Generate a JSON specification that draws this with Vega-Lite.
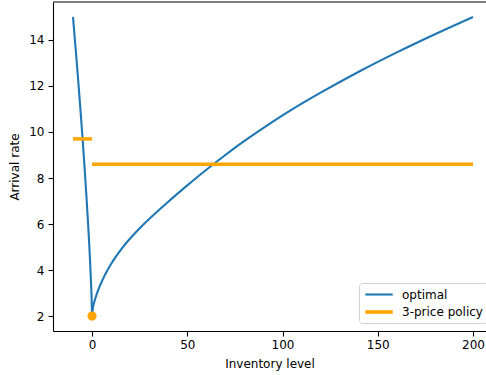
{
  "$schema": "https://vega.github.io/schema/vega-lite/v6.json",
  "width": 433,
  "height": 329,
  "autosize": {"type": "none"},
  "padding": {"left": 53, "top": 2, "right": 0, "bottom": 44},
  "datasets": {
    "curves": [
      {"x": -10, "y": 15, "series": "optimal", "seg": "L"},
      {"x": -9, "y": 14.0, "series": "optimal", "seg": "L"},
      {"x": -8, "y": 13.0, "series": "optimal", "seg": "L"},
      {"x": -7, "y": 11.95, "series": "optimal", "seg": "L"},
      {"x": -6, "y": 10.87, "series": "optimal", "seg": "L"},
      {"x": -5, "y": 9.75, "series": "optimal", "seg": "L"},
      {"x": -4, "y": 8.55, "series": "optimal", "seg": "L"},
      {"x": -3, "y": 7.27, "series": "optimal", "seg": "L"},
      {"x": -2, "y": 5.9, "series": "optimal", "seg": "L"},
      {"x": -1.5, "y": 5.15, "series": "optimal", "seg": "L"},
      {"x": -1, "y": 4.3, "series": "optimal", "seg": "L"},
      {"x": -0.5, "y": 3.38, "series": "optimal", "seg": "L"},
      {"x": -0.2, "y": 2.7, "series": "optimal", "seg": "L"},
      {"x": 0, "y": 2, "series": "optimal", "seg": "L"},
      {"x": 0, "y": 2, "series": "optimal", "seg": "R"},
      {"x": 0.5, "y": 2.38, "series": "optimal", "seg": "R"},
      {"x": 1, "y": 2.56, "series": "optimal", "seg": "R"},
      {"x": 2, "y": 2.84, "series": "optimal", "seg": "R"},
      {"x": 3, "y": 3.08, "series": "optimal", "seg": "R"},
      {"x": 4, "y": 3.29, "series": "optimal", "seg": "R"},
      {"x": 5, "y": 3.48, "series": "optimal", "seg": "R"},
      {"x": 6, "y": 3.66, "series": "optimal", "seg": "R"},
      {"x": 8, "y": 3.98, "series": "optimal", "seg": "R"},
      {"x": 10, "y": 4.26, "series": "optimal", "seg": "R"},
      {"x": 12.5, "y": 4.58, "series": "optimal", "seg": "R"},
      {"x": 15, "y": 4.87, "series": "optimal", "seg": "R"},
      {"x": 17.5, "y": 5.13, "series": "optimal", "seg": "R"},
      {"x": 20, "y": 5.37, "series": "optimal", "seg": "R"},
      {"x": 25, "y": 5.82, "series": "optimal", "seg": "R"},
      {"x": 30, "y": 6.22, "series": "optimal", "seg": "R"},
      {"x": 40, "y": 6.97, "series": "optimal", "seg": "R"},
      {"x": 50, "y": 7.68, "series": "optimal", "seg": "R"},
      {"x": 60, "y": 8.36, "series": "optimal", "seg": "R"},
      {"x": 70, "y": 9.0, "series": "optimal", "seg": "R"},
      {"x": 80, "y": 9.61, "series": "optimal", "seg": "R"},
      {"x": 90, "y": 10.18, "series": "optimal", "seg": "R"},
      {"x": 100, "y": 10.72, "series": "optimal", "seg": "R"},
      {"x": 110, "y": 11.23, "series": "optimal", "seg": "R"},
      {"x": 120, "y": 11.71, "series": "optimal", "seg": "R"},
      {"x": 140, "y": 12.62, "series": "optimal", "seg": "R"},
      {"x": 160, "y": 13.46, "series": "optimal", "seg": "R"},
      {"x": 180, "y": 14.25, "series": "optimal", "seg": "R"},
      {"x": 200, "y": 15, "series": "optimal", "seg": "R"},
      {"x": -10, "y": 9.7, "series": "3-price policy", "seg": "a"},
      {"x": 0, "y": 9.7, "series": "3-price policy", "seg": "a"},
      {"x": 0, "y": 8.6, "series": "3-price policy", "seg": "b"},
      {"x": 200, "y": 8.6, "series": "3-price policy", "seg": "b"}
    ],
    "dot": [{"x": 0, "y": 2}],
    "frame": [{"top": 15.65}]
  },
  "layer": [
    {
      "data": {"name": "frame"},
      "mark": {"type": "rule", "color": "#000000", "strokeWidth": 1.1},
      "encoding": {"y": {"field": "top", "type": "quantitative"}}
    },
    {
      "data": {"name": "curves"},
      "transform": [{"filter": "datum.series === 'optimal'"}],
      "mark": {"type": "line", "interpolate": "monotone"},
      "encoding": {
        "x": {"field": "x", "type": "quantitative"},
        "y": {"field": "y", "type": "quantitative"},
        "detail": {"field": "seg"},
        "order": {"field": "x"},
        "color": {"field": "series", "type": "nominal"},
        "strokeWidth": {"field": "series", "type": "nominal"}
      }
    },
    {
      "data": {"name": "curves"},
      "transform": [{"filter": "datum.series === '3-price policy'"}],
      "mark": {"type": "line"},
      "encoding": {
        "x": {"field": "x", "type": "quantitative"},
        "y": {"field": "y", "type": "quantitative"},
        "detail": {"field": "seg"},
        "order": {"field": "x"},
        "color": {"field": "series", "type": "nominal"},
        "strokeWidth": {"field": "series", "type": "nominal"}
      }
    },
    {
      "data": {"name": "dot"},
      "mark": {"type": "point", "filled": true, "opacity": 1, "size": 85, "color": "#ffa500"},
      "encoding": {
        "x": {"field": "x", "type": "quantitative"},
        "y": {"field": "y", "type": "quantitative"}
      }
    }
  ],
  "encoding": {
    "x": {
      "type": "quantitative",
      "scale": {"domain": [-20.5, 206.8], "nice": false, "zero": false},
      "axis": {"values": [0, 50, 100, 150, 200], "title": "Inventory level", "titlePadding": 8, "labelPadding": 3}
    },
    "y": {
      "type": "quantitative",
      "scale": {"domain": [1.35, 15.65], "nice": false, "zero": false},
      "axis": {"values": [2, 4, 6, 8, 10, 12, 14], "title": "Arrival rate", "titlePadding": 7, "labelPadding": 4}
    },
    "color": {
      "type": "nominal",
      "scale": {"domain": ["optimal", "3-price policy"], "range": ["#1f77b4", "#ffa500"]},
      "legend": {"title": null}
    },
    "strokeWidth": {
      "type": "nominal",
      "scale": {"domain": ["optimal", "3-price policy"], "range": [2.1, 3.5]},
      "legend": {"title": null}
    }
  },
  "config": {
    "view": {"stroke": null},
    "axis": {
      "grid": false,
      "labelFont": "DejaVu Sans",
      "titleFont": "DejaVu Sans",
      "labelFontSize": 12,
      "titleFontSize": 12,
      "titleFontWeight": "normal",
      "labelColor": "#000000",
      "titleColor": "#000000",
      "tickColor": "#000000",
      "domainColor": "#000000",
      "tickSize": 5,
      "tickWidth": 1.1,
      "domainWidth": 1.1
    },
    "legend": {
      "orient": "none",
      "legendX": 306,
      "legendY": 281,
      "fillColor": "#ffffff",
      "strokeColor": "#d0d0d0",
      "cornerRadius": 3,
      "padding": 4,
      "labelFont": "DejaVu Sans",
      "labelFontSize": 12,
      "labelColor": "#000000",
      "symbolType": "M-0.95,0H3.62",
      "symbolSize": 144,
      "rowPadding": 3,
      "labelOffset": 23
    }
  }
}
